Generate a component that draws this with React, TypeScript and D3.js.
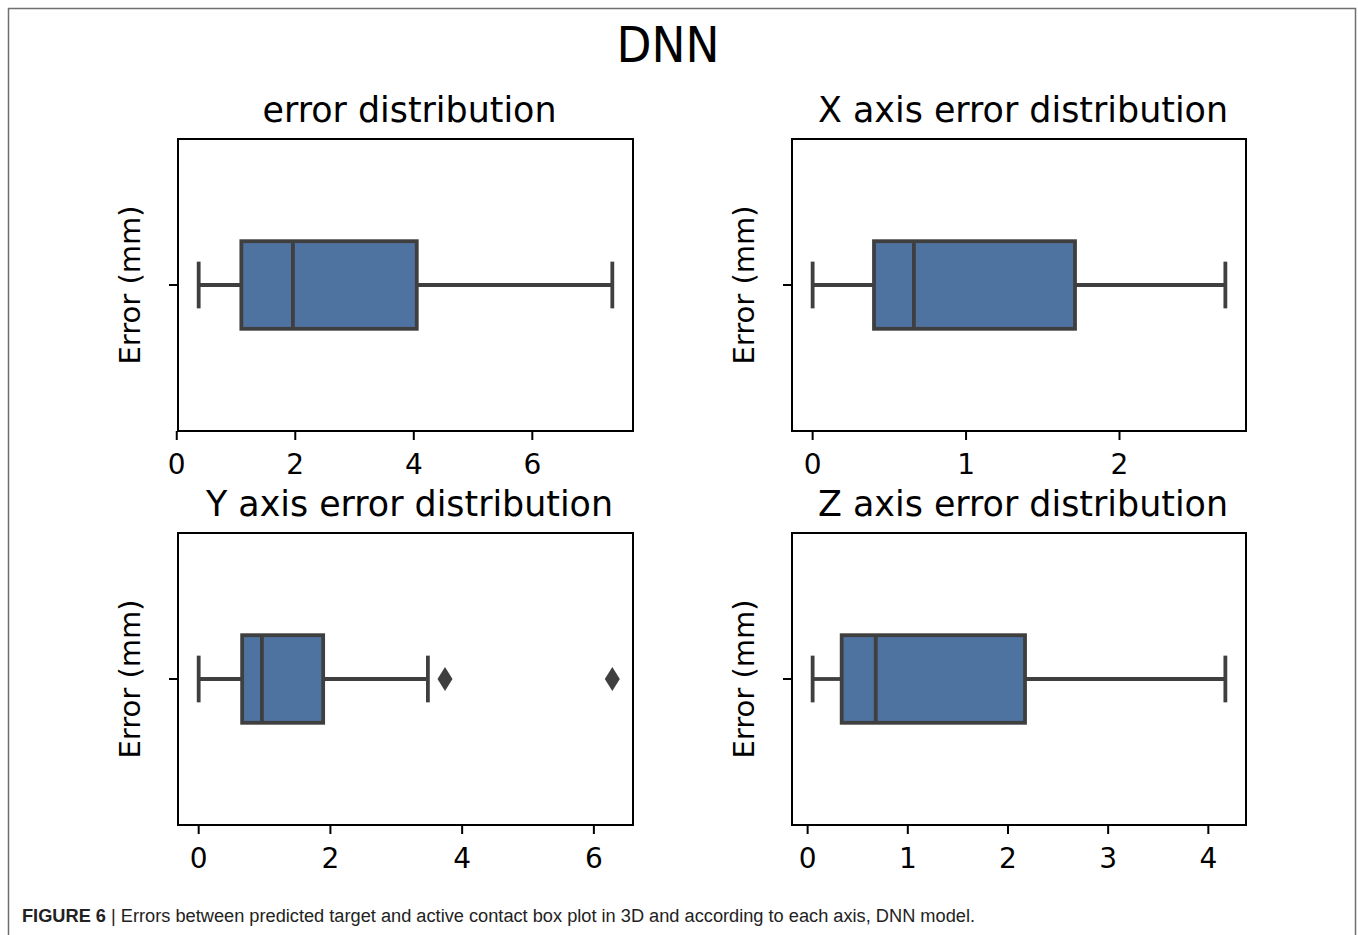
import { scaleLinear, min, max } from "d3"

const suptitle = "DNN"
const titles = [
  "error distribution",
  "X axis error distribution",
  "Y axis error distribution",
  "Z axis error distribution",
]
const whiskerLow = [0.37, 0.0, 0.0, 0.05]
const q1 = [1.09, 0.4, 0.66, 0.34]
const median = [1.96, 0.66, 0.96, 0.68]
const q3 = [4.05, 1.71, 1.89, 2.17]
const whiskerHigh = [7.35, 2.69, 3.48, 4.17]
const outliers: number[][] = [[], [], [3.74, 6.28], []]
const xTicks = [
  [0, 2, 4, 6],
  [0, 1, 2],
  [0, 2, 4, 6],
  [0, 1, 2, 3, 4],
]
const yLabel = "Error (mm)"
const captionBold = "FIGURE 6"
const captionText =
  "Errors between predicted target and active contact box plot in 3D and according to each axis, DNN model."

const W = 1358
const H = 935
const cols = [
  [178, 633],
  [792, 1246],
]
const rows = [
  [139, 431],
  [533, 825],
]
const titleWidths = [294, 410, 407, 410]

const FONT = "'DejaVu Sans', sans-serif"
const EDGE = "#3f3f3f"
const FILL = "#4f73a0"

function BoxPanel({ i }: { i: number }) {
  const [x0, x1] = cols[i % 2]
  const [y0, y1] = rows[Math.floor(i / 2)]
  const vals = [whiskerLow[i], whiskerHigh[i], ...outliers[i]]
  const lo = min(vals) ?? 0
  const hi = max(vals) ?? 1
  const pad = (hi - lo) * 0.05
  const x = scaleLinear().domain([lo - pad, hi + pad]).range([x0, x1])
  const y = scaleLinear().domain([-0.5, 0.5]).range([y1, y0])
  const cy = y(0)
  const boxTop = y(0.15)
  const boxBot = y(-0.15)
  const capTop = y(0.08)
  const capBot = y(-0.08)
  const lw = 3.8

  return (
    <g>
      {/* title */}
      <text
        x={(x0 + x1) / 2 + 4}
        y={y0 - 17}
        textAnchor="middle"
        fontSize={36}
        fontFamily={FONT}
        textLength={titleWidths[i]}
        lengthAdjust="spacingAndGlyphs"
      >
        {titles[i]}
      </text>

      {/* y label */}
      <text
        transform={`translate(${x0 - 38},${cy}) rotate(-90)`}
        textAnchor="middle"
        fontSize={29}
        fontFamily={FONT}
      >
        {yLabel}
      </text>

      {/* whiskers */}
      <line x1={x(whiskerLow[i])} x2={x(q1[i])} y1={cy} y2={cy} stroke={EDGE} strokeWidth={lw} />
      <line x1={x(q3[i])} x2={x(whiskerHigh[i])} y1={cy} y2={cy} stroke={EDGE} strokeWidth={lw} />
      <line x1={x(whiskerLow[i])} x2={x(whiskerLow[i])} y1={capTop} y2={capBot} stroke={EDGE} strokeWidth={lw} />
      <line x1={x(whiskerHigh[i])} x2={x(whiskerHigh[i])} y1={capTop} y2={capBot} stroke={EDGE} strokeWidth={lw} />

      {/* box */}
      <rect
        x={x(q1[i])}
        y={boxTop}
        width={x(q3[i]) - x(q1[i])}
        height={boxBot - boxTop}
        fill={FILL}
        stroke={EDGE}
        strokeWidth={lw}
      />
      <line x1={x(median[i])} x2={x(median[i])} y1={boxTop} y2={boxBot} stroke={EDGE} strokeWidth={lw} />

      {/* outliers */}
      {outliers[i].map((v, k) => (
        <path
          key={k}
          d={`M ${x(v)} ${cy - 12} L ${x(v) + 7.5} ${cy} L ${x(v)} ${cy + 12} L ${x(v) - 7.5} ${cy} Z`}
          fill={EDGE}
        />
      ))}

      {/* spines */}
      <rect x={x0} y={y0} width={x1 - x0} height={y1 - y0} fill="none" stroke="#000" strokeWidth={2} />

      {/* y tick */}
      <line x1={x0 - 9} x2={x0} y1={cy} y2={cy} stroke="#000" strokeWidth={2} />

      {/* x ticks */}
      {xTicks[i].map((t) => (
        <g key={t}>
          <line x1={x(t)} x2={x(t)} y1={y1} y2={y1 + 9} stroke="#000" strokeWidth={2} />
          <text
            x={x(t)}
            y={y1 + 43}
            textAnchor="middle"
            fontSize={28}
            fontFamily={FONT}
          >
            {t}
          </text>
        </g>
      ))}
    </g>
  )
}

export default function App() {
  return (
    <>
      <style>{`body{margin:0}`}</style>
      <svg width={W} height={H} style={{ display: "block", background: "#fff" }}>
        <rect x={8.5} y={8.5} width={1347} height={1000} fill="none" stroke="#6f6f6f" strokeWidth={1.5} />

        <text
          x={668}
          y={62}
          textAnchor="middle"
          fontSize={50}
          fontFamily={FONT}
          textLength={103}
          lengthAdjust="spacingAndGlyphs"
        >
          {suptitle}
        </text>

        {titles.map((_, i) => (
          <BoxPanel key={i} i={i} />
        ))}

        <text
          x={22}
          y={922}
          fontSize={18}
          fontFamily="'Liberation Sans Narrow', 'Liberation Sans', sans-serif"
          fill="#222"
          textLength={953}
          lengthAdjust="spacingAndGlyphs"
        >
          <tspan fontWeight="bold">{captionBold}</tspan>
          <tspan> | </tspan>
          <tspan>{captionText}</tspan>
        </text>
      </svg>
    </>
  )
}
